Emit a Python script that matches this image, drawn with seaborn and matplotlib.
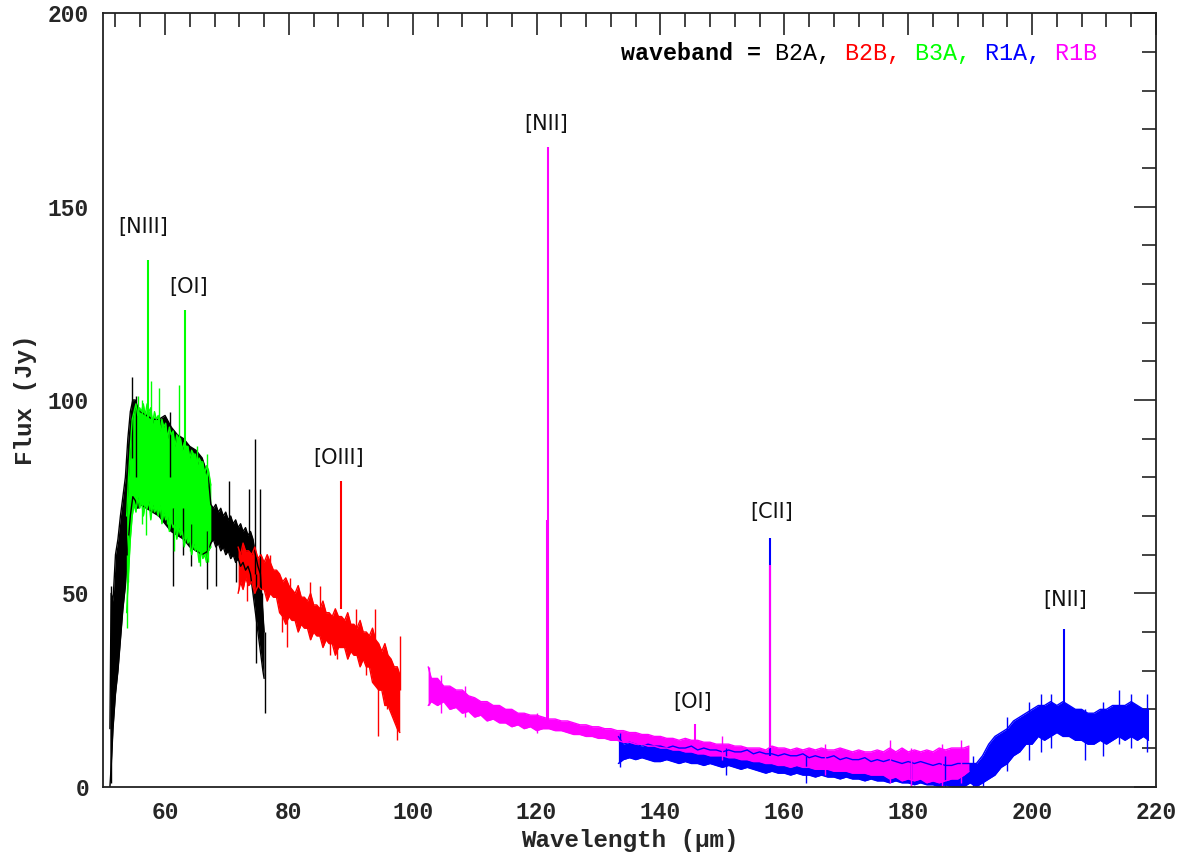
import numpy as np
import pandas as pd
import matplotlib
matplotlib.use("Agg")
import matplotlib.pyplot as plt
import seaborn as sns
from matplotlib.ticker import MultipleLocator

# ---------------------------------------------------------------------------
# Spectrum data: noise band of each waveband (lower / upper flux edge, Jy)
# ---------------------------------------------------------------------------
b2a_wave = [51.1, 51.3, 51.6, 52.0, 52.4, 52.8, 53.2, 53.6, 54.0, 54.4, 54.8, 55.2,
            55.6, 56.0, 57.0, 58.0, 59.0, 60.0, 61.0, 62.0, 63.0, 64.0, 65.0, 66.0,
            67.0, 67.4, 67.8, 68.2, 68.6, 69.0, 69.4, 69.8, 70.2, 70.6, 71.0, 71.4,
            71.8, 72.2, 72.6, 73.0, 73.4, 73.8, 74.2, 74.6, 75.0, 75.4, 75.8, 76.0]
b2a_lo = [0, 5, 15, 24, 30, 38, 46, 52, 62, 70, 75, 74, 72, 73, 72, 71, 70, 68, 66,
          65, 64, 62, 61, 60, 61, 63, 64, 62, 63, 61, 62, 60, 61, 59, 60, 58, 59, 57,
          58, 56, 57, 55, 50, 45, 40, 35, 30, 28]
b2a_hi = [15, 50, 48, 60, 64, 70, 75, 80, 90, 97, 100, 100, 98, 97, 96, 95, 95, 96,
          93, 91, 90, 88, 87, 85, 80, 73, 72, 73, 71, 72, 70, 71, 69, 70, 68, 69, 67,
          68, 66, 67, 65, 66, 64, 60, 57, 55, 45, 40]

b3a_wave = [53.8, 54.1, 54.4, 54.7, 55.0, 55.3, 55.6, 55.9, 56.2, 56.5, 56.8, 57.1,
            57.4, 57.7, 58.0, 58.3, 58.6, 58.9, 59.2, 59.5, 59.8, 60.1, 60.4, 60.7,
            61.0, 61.3, 61.6, 61.9, 62.2, 62.5, 62.8, 63.1, 63.4, 63.7, 64.0, 64.3,
            64.6, 64.9, 65.2, 65.5, 65.8, 66.1, 66.4, 66.7, 67.0, 67.4]
b3a_lo = [45, 55, 64, 70, 73, 71, 75, 72, 74, 70, 73, 72, 74, 69, 73, 71, 72, 70, 73,
          68, 71, 69, 70, 66, 69, 67, 68, 64, 67, 65, 66, 62, 65, 63, 64, 60, 63, 61,
          62, 58, 61, 59, 60, 58, 61, 62]
b3a_hi = [70, 80, 88, 95, 97, 99, 96, 98, 97, 99, 96, 99, 97, 98, 94, 97, 95, 96, 92,
          95, 93, 94, 90, 93, 91, 92, 88, 91, 90, 90, 87, 89, 88, 88, 85, 87, 86, 86,
          83, 85, 84, 84, 81, 83, 82, 78]

b2b_wave = [71.8, 72.2, 72.6, 73.0, 73.5, 74.0, 74.5, 75.0, 75.5, 76.0, 76.5, 77.0,
            77.5, 78.0, 78.5, 79.0, 79.5, 80.0, 80.5, 81.0, 81.5, 82.0, 82.5, 83.0,
            83.5, 84.0, 84.5, 85.0, 85.5, 86.0, 86.5, 87.0, 87.5, 88.0, 88.5, 89.0,
            89.5, 90.0, 90.5, 91.0, 91.5, 92.0, 92.5, 93.0, 93.5, 94.0, 94.5, 95.0,
            95.5, 96.0, 96.5, 97.0, 97.5, 97.9]
b2b_lo = [50, 53, 51, 54, 52, 53, 50, 52, 51, 51, 48, 50, 49, 49, 45, 44, 42, 44, 43,
          43, 40, 42, 41, 41, 38, 40, 39, 39, 36, 38, 37, 37, 34, 36, 36, 36, 33, 35,
          34, 34, 31, 33, 31, 31, 27, 26, 25, 25, 21, 21, 19, 17, 15, 14]
b2b_hi = [62, 60, 63, 61, 61, 60, 62, 59, 60, 58, 60, 58, 56, 56, 55, 53, 54, 52, 51,
          50, 52, 49, 49, 48, 50, 47, 47, 46, 48, 45, 45, 44, 46, 44, 44, 43, 45, 42,
          42, 41, 43, 40, 40, 39, 41, 38, 37, 35, 37, 34, 33, 31, 31, 29]

r1a_wave = [133.2] + list(range(134, 219)) + [218.8]
r1a_lo = [6,
          7, 7.5, 7, 7.5, 7, 6.5, 6.5, 7, 6.5, 6, 6.5, 6, 6, 5.5, 6, 5.5, 5, 5.5, 5,
          4.5, 5, 4.5, 4, 3.5, 4, 3.5, 3.5, 3, 3.5, 3, 3, 2.5, 3, 2.5, 2.5, 2, 2.5, 2,
          2, 1.5, 2, 1.5, 1.5, 1, 1.5, 1, 1, 0.5, 1, 0.5, 0.5, 0, 0.5, 0, 0, 0,
          1, 0, 1, 2, 3, 5, 6, 8, 9, 11, 11, 13, 12, 13, 14, 13, 13, 12, 12, 11, 11,
          12, 11, 12, 13, 12, 13, 12, 13,
          12]
r1a_hi = [13,
          11, 11.5, 11, 10.5, 11, 10.5, 10.5, 10, 10.5, 10, 10, 10.5, 9.5, 10, 9.5,
          9.5, 9, 9.5, 9, 9, 9.5, 8.5, 9, 8.5, 8.5, 8, 8.5, 8, 8, 8.5, 7.5, 8, 7.5,
          7.5, 8, 7, 7.5, 7, 7, 7.5, 6.5, 7, 6.5, 7, 6.5, 6, 6.5, 6, 6.5, 6, 5.5, 6,
          5.5, 5.5, 6, 6,
          6, 6, 8, 11, 13, 14, 15, 17, 18, 19, 20, 21, 21, 22, 21, 22, 21, 20, 20, 19,
          19, 20, 20, 21, 21, 21, 22, 21, 20,
          20]

r1b_wave = [102.5] + list(range(103, 190)) + [189.8]
r1b_lo = [21, 22, 21, 22, 20, 20.5, 19, 19.5, 18, 18.5, 17, 17.5, 16.5, 16.5, 15.5,
          16, 15, 15.5, 14.5, 15, 15, 14.5, 14.5, 14, 13.5, 13.5, 13, 13, 12.5, 12.5,
          12, 12, 11.5, 11.5, 11, 11, 10.5, 10.5, 10, 10, 9.5, 9.5, 9, 9, 8.5, 8.5, 8,
          8, 8, 7.5, 7.5, 7, 7, 6.5, 6.5, 6, 6, 5.5, 5.5, 5, 5.5, 5, 5, 4.5, 4.5, 4.5,
          4, 4, 4, 3.5, 3.5, 3.5, 3, 3, 3, 2, 2.5, 1.5, 2, 1.5, 2, 1, 1.5, 1, 1.5, 2, 2,
          3, 4]
r1b_hi = [31, 28, 28, 26, 26, 25, 25, 23.5, 23, 22, 22, 21, 21, 20, 20, 19, 19, 18.5,
          18.5, 18, 17.5, 17.5, 17, 17, 16.5, 16, 16, 15.5, 15.5, 15, 15, 14.5, 14.5,
          14, 14, 13.5, 13.5, 13, 13, 12.5, 12.5, 12, 12.5, 12, 12, 11.5, 11.5, 11, 11,
          11, 10.5, 10.5, 10, 10, 10, 9.5, 10.5, 10, 10, 9.5, 10, 9.5, 10, 9.5, 10,
          9.5, 9.5, 10, 9.5, 9, 9.5, 9, 9, 9.5, 9, 10, 9, 10, 9, 9.5, 9, 9.5, 9, 10,
          9.5, 10, 10, 10, 10.5]

# Isolated noise excursions: (wavelength, low, high) per waveband
b2a_spikes = [(51.3, 1, 52), (52.6, 40, 65), (54.7, 85, 106), (55.3, 80, 101),
              (60.8, 80, 97), (61.3, 52, 72), (62.9, 60, 72), (64.2, 57, 68),
              (66.7, 51, 66), (68.2, 52, 65), (70.3, 65, 79), (71.5, 53, 62),
              (73.5, 62, 77), (74.5, 55, 90), (74.7, 32, 55), (75.3, 50, 77),
              (75.7, 35, 50), (76.2, 19, 40)]
b3a_spikes = [(53.8, 41, 60), (54.0, 53, 65), (55.6, 85, 101), (56.3, 68, 100),
              (57.0, 65, 76), (57.7, 88, 105), (59.1, 88, 103), (60.3, 68, 75),
              (61.4, 61, 72), (62.3, 86, 104), (64.1, 61, 70), (65.1, 80, 88),
              (65.7, 57, 66), (66.7, 78, 86), (67.0, 58, 66)]
b2b_spikes = [(73.2, 48, 56), (77.0, 52, 60), (78.9, 40, 50), (79.7, 36, 48),
              (80.2, 48, 54), (83.4, 46, 53), (85.0, 44, 52), (86.6, 34, 42),
              (87.7, 33, 40), (90.9, 38, 46), (92.5, 29, 36), (93.9, 36, 46),
              (94.4, 13, 30), (95.8, 20, 30), (97.4, 12, 25), (97.9, 25, 39)]
r1a_spikes = [(133.4, 5, 14), (150.5, 3, 10), (163.5, 1, 8), (180.5, 0, 7),
              (186.0, 0, 8), (190.5, 0, 8), (192.0, 0, 5), (196.0, 4, 18),
              (199.5, 7, 22), (201.5, 9, 24), (203.0, 10, 24), (208.5, 7, 20),
              (211.5, 8, 22), (214.0, 11, 25), (216.0, 10, 24), (218.5, 9, 24)]
r1b_spikes = [(102.7, 21, 31), (104.5, 19, 29), (108.5, 18, 26), (120.0, 14, 19),
              (150.0, 7, 13), (166.5, 3, 11), (177.0, 1, 12), (180.5, 0, 10),
              (185.5, 0, 11), (188.5, 1, 12)]

# Emission lines: (wavelength, continuum level, peak flux)
b3a_lines = [(57.3, 90, 136.2), (63.2, 88, 123.4)]
b2b_lines = [(88.4, 46, 79.0)]
r1a_lines = [(157.7, 8, 64.4), (205.2, 20, 40.8)]
r1b_lines = [(121.9, 17, 165.5), (121.75, 17, 69.0), (145.5, 11, 16.2), (157.7, 10, 57.3)]

# Line identifications: label, wavelength, flux of label centre
line_labels = ["[NIII]", "[OI]", "[OIII]", "[NII]", "[OI]", "[CII]", "[NII]"]
label_wave = [56.5, 63.8, 88.0, 121.6, 145.2, 158.0, 205.3]
label_flux = [144.8, 129.1, 84.9, 171.5, 22.0, 71.1, 48.3]

band_names = ["B2A", "B2B", "B3A", "R1A", "R1B"]
band_colors = ["#000000", "#ff0000", "#00ff00", "#0000ff", "#ff00ff"]

bands = {
    "B2A": (b2a_wave, b2a_lo, b2a_hi, b2a_spikes, []),
    "B2B": (b2b_wave, b2b_lo, b2b_hi, b2b_spikes, b2b_lines),
    "B3A": (b3a_wave, b3a_lo, b3a_hi, b3a_spikes, b3a_lines),
    "R1A": (r1a_wave, r1a_lo, r1a_hi, r1a_spikes, r1a_lines),
    "R1B": (r1b_wave, r1b_lo, r1b_hi, r1b_spikes, r1b_lines),
}

# ---------------------------------------------------------------------------
sns.set_theme(style="white")
mono = "Liberation Mono"
plt.rcParams["font.family"] = ["DejaVu Sans"]

fig = plt.figure(figsize=(11.89, 8.58), dpi=100)
ax = fig.add_axes([0.0867, 0.0831, 0.8855, 0.9014])

palette = dict(zip(band_names, band_colors))
for name in band_names:
    wave, lo, hi, spikes, lines = bands[name]
    col = palette[name]
    df = pd.DataFrame({"wavelength": wave, "lo": lo, "hi": hi})
    ax.fill_between(df["wavelength"], df["lo"], df["hi"], color=col, lw=0)
    sns.lineplot(data=df, x="wavelength", y="hi", color=col, lw=1.0, ax=ax,
                 estimator=None, sort=False)
    sns.lineplot(data=df, x="wavelength", y="lo", color=col, lw=1.0, ax=ax,
                 estimator=None, sort=False)
    if spikes:
        sx, slo, shi = zip(*spikes)
        ax.vlines(sx, slo, shi, color=col, lw=1.0)
    if lines:
        lx, lb, lp = zip(*lines)
        ax.vlines(lx, lb, lp, color=col, lw=1.5)

for txt, wx, fy in zip(line_labels, label_wave, label_flux):
    ax.text(wx, fy, txt, ha="center", va="center", fontsize=15, color="#111111")

# Axes frame, ticks and labels
ax.set_xlim(50, 220)
ax.set_ylim(0, 200)
ax.xaxis.set_major_locator(MultipleLocator(20))
ax.xaxis.set_minor_locator(MultipleLocator(4))
ax.yaxis.set_major_locator(MultipleLocator(50))
ax.yaxis.set_minor_locator(MultipleLocator(10))
ax.tick_params(which="both", direction="in", top=True, right=True, color="#222222",
               width=1.2)
ax.tick_params(which="major", length=16, pad=10)
ax.tick_params(which="minor", length=10)
for lab in ax.get_xticklabels() + ax.get_yticklabels():
    lab.set_fontfamily(mono)
    lab.set_fontweight("bold")
    lab.set_fontsize(16.5)
for sp in ax.spines.values():
    sp.set_color("#222222")
    sp.set_linewidth(1.3)

ax.set_xlabel("Wavelength (\u03bcm)", fontfamily=mono, fontweight="bold",
              fontsize=17.5, labelpad=4)
ax.set_ylabel("Flux (Jy)", fontfamily=mono, fontweight="bold", fontsize=17.5,
              labelpad=8)

# Colour key, set in a fixed-width font so each word keeps its column
key = "waveband = B2A, B2B, B3A, R1A, R1B"
pieces = [("waveband = ", "#000000", "bold"), ("B2A, ", band_colors[0], "normal"),
          ("B2B, ", band_colors[1], "normal"), ("B3A, ", band_colors[2], "normal"),
          ("R1A, ", band_colors[3], "normal"), ("R1B", band_colors[4], "normal")]
pos = 0
for piece, col, wt in pieces:
    masked = " " * pos + piece + " " * (len(key) - pos - len(piece))
    ax.text(0.9444, 0.9485, masked, transform=ax.transAxes, ha="right",
            va="center", fontfamily=mono, fontsize=16.8, color=col, fontweight=wt)
    pos += len(piece)

fig.savefig("out.png", dpi=100, facecolor="white")
